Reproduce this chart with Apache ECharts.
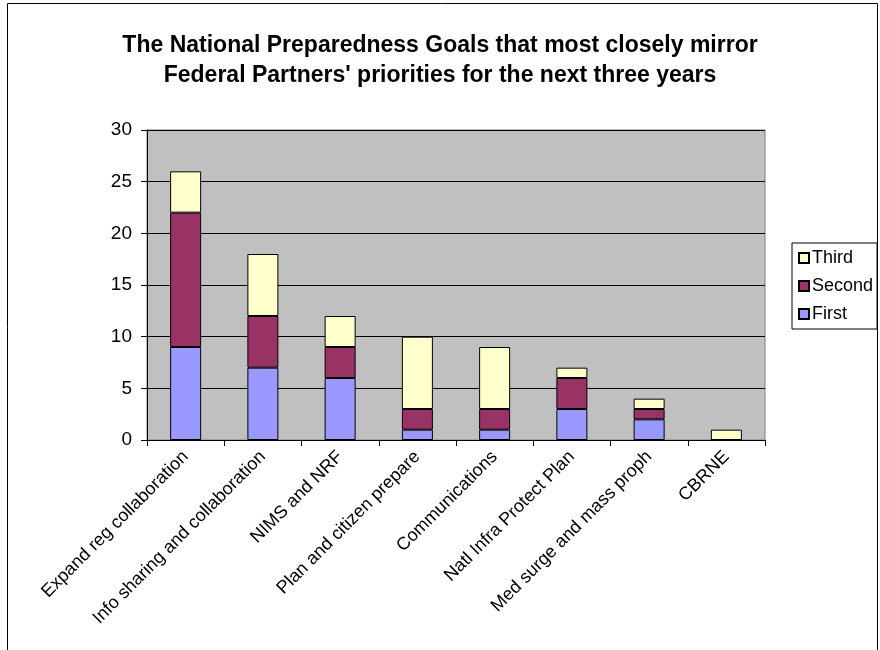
<!DOCTYPE html>
<html><head><meta charset="utf-8">
<script src="https://cdn.jsdelivr.net/npm/echarts@6/dist/echarts.min.js"></script>
<style>html,body{margin:0;padding:0;background:#fff}#c{width:880px;height:650px}</style>
</head><body><div id="c"></div>
<script>
var categories = ["Expand reg collaboration","Info sharing and collaboration","NIMS and NRF","Plan and citizen prepare","Communications","Natl Infra Protect Plan","Med surge and mass proph","CBRNE"];
var first = [9, 7, 6, 1, 1, 3, 2, 0];
var second = [13, 5, 3, 2, 2, 3, 1, 0];
var third = [4, 6, 3, 7, 6, 1, 1, 1];
var yTicks = [0, 5, 10, 15, 20, 25, 30];

var chart = echarts.init(document.getElementById('c'), null, {renderer:'canvas'});
var font = 'Liberation Sans, Arial, sans-serif';
function mk(name, data, color){
  return {name:name, type:'bar', stack:'t', data:data, barWidth:31,
    itemStyle:{color:color, borderColor:'#000', borderWidth:1}, emphasis:{disabled:true}};
}
chart.setOption({
  animation:false,
  textStyle:{fontFamily:font},
  title:{text:"The National Preparedness Goals that most closely mirror\nFederal Partners' priorities for the next three years",
    left:'center', top:26,
    textStyle:{fontFamily:font, fontSize:23, fontWeight:'bold', color:'#000', lineHeight:30}},
  graphic:[{type:'rect', shape:{x:7.5, y:3.5, width:870, height:700}, style:{fill:'none', stroke:'#000', lineWidth:1}, silent:true}],
  legend:{orient:'vertical', left:792, top:243, data:['Third','Second','First'],
    icon:'rect', itemWidth:10, itemHeight:10, itemGap:10,
    borderColor:'#000', borderWidth:1, padding:[6,4,6,6],
    textStyle:{fontFamily:font, fontSize:18, color:'#000', padding:[0,0,0,-2]}},
  grid:{left:147, right:115, top:130, bottom:210, show:true, backgroundColor:'#c0c0c0', borderColor:'#808080', borderWidth:1},
  xAxis:{type:'category', data:categories,
    axisLine:{lineStyle:{color:'#000'}}, axisTick:{show:true, length:6, lineStyle:{color:'#000'}},
    axisLabel:{rotate:45, interval:0, fontSize:18, color:'#000', fontFamily:font, margin:14}},
  yAxis:{type:'value', min:0, max:30, interval:5,
    axisLine:{show:true, lineStyle:{color:'#000'}}, axisTick:{show:true, length:6, lineStyle:{color:'#000'}},
    axisLabel:{fontSize:19, color:'#000', fontFamily:font, margin:15,
      formatter:function(v){return yTicks.indexOf(v)>=0?String(v):'';}},
    splitLine:{show:true, lineStyle:{color:'#000', width:1}}},
  series:[mk('First', first, '#9999FF'), mk('Second', second, '#993366'), mk('Third', third, '#FFFFCC')]
});
</script></body></html>
